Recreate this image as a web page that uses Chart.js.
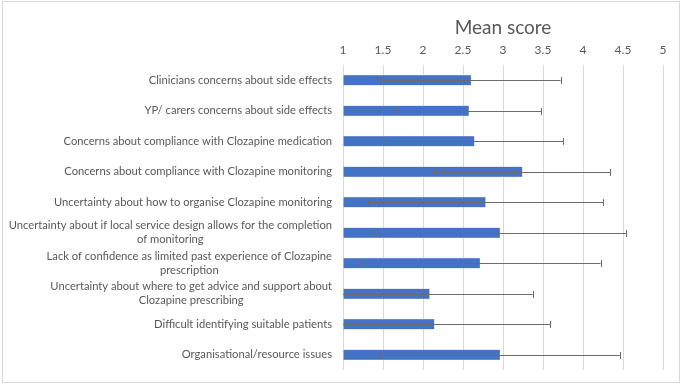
<!DOCTYPE html>
<html>
<head>
<meta charset="utf-8">
<script src="https://cdn.jsdelivr.net/npm/chart.js@4/dist/chart.umd.min.js"></script>
<style>
  html, body { margin: 0; padding: 0; background: #fff; }
  #wrap {
    position: absolute; left: 2px; top: 1px; width: 678px; height: 382px;
    border: 1px solid #d9d9d9; box-sizing: border-box;
  }
  #frame { position: absolute; left: 0; top: 0; width: 683px; height: 386px; }
</style>
</head>
<body>
<div id="wrap"></div>
<div id="frame"><canvas id="barChart" width="683" height="386"></canvas></div>
<script>
// Barriers to Clozapine prescribing - mean score with SD error bars
const categories = [
    ['Clinicians concerns about side effects'],
    ['YP/ carers concerns about side effects'],
    ['Concerns about compliance with Clozapine medication'],
    ['Concerns about compliance with Clozapine monitoring'],
    ['Uncertainty about how to organise Clozapine monitoring'],
    ['Uncertainty about if local service design allows for the completion', 'of monitoring'],
    ['Lack of confidence as limited past experience of Clozapine', 'prescription'],
    ['Uncertainty about where to get advice and support about', 'Clozapine prescribing'],
    ['Difficult identifying suitable patients'],
    ['Organisational/resource issues']
];
const meanScores = [2.60, 2.57, 2.64, 3.24, 2.78, 2.96, 2.71, 2.08, 2.14, 2.96];
const stdDevs = [1.12, 0.91, 1.11, 1.10, 1.47, 1.58, 1.51, 1.29, 1.45, 1.50];
const tickValues = [1, 1.5, 2, 2.5, 3, 3.5, 4, 4.5, 5];

const textColor = '#595959';
const gridColor = '#d9d9d9';
const labelFont = '11.2px Lato';

// error bars drawn through the chart scales
const errorBarPlugin = {
    id: 'errorBars',
    afterDatasetsDraw(chart) {
        const ctx = chart.ctx;
        const xScale = chart.scales.x;
        const yScale = chart.scales.y;
        ctx.save();
        ctx.strokeStyle = '#6b6b6b';
        ctx.lineWidth = 1;
        meanScores.forEach((m, i) => {
            const lo = m - stdDevs[i];
            const hi = m + stdDevs[i];
            const y = Math.round(yScale.getPixelForValue(i)) + 0.5;
            const x1 = xScale.getPixelForValue(Math.max(lo, xScale.min));
            const x2 = xScale.getPixelForValue(Math.min(hi, xScale.max));
            ctx.beginPath();
            ctx.moveTo(x1, y);
            ctx.lineTo(x2, y);
            if (lo >= xScale.min) {
                ctx.moveTo(Math.round(x1) + 0.5, y - 3.5);
                ctx.lineTo(Math.round(x1) + 0.5, y + 3.5);
            }
            if (hi <= xScale.max) {
                ctx.moveTo(Math.round(x2) + 0.5, y - 3.5);
                ctx.lineTo(Math.round(x2) + 0.5, y + 3.5);
            }
            ctx.stroke();
        });
        ctx.restore();
    }
};

// category labels: block right aligned, wrapped lines centred on each other
const categoryLabelPlugin = {
    id: 'categoryLabels',
    afterDraw(chart) {
        const ctx = chart.ctx;
        const yScale = chart.scales.y;
        const right = yScale.right - 11;
        const lineH = 14;
        ctx.save();
        ctx.font = labelFont;
        ctx.fillStyle = textColor;
        ctx.textAlign = 'center';
        ctx.textBaseline = 'middle';
        categories.forEach((lines, i) => {
            const w = Math.max(...lines.map(t => ctx.measureText(t).width));
            const cx = right - w / 2;
            const y0 = yScale.getPixelForValue(i) - (lines.length - 1) * lineH / 2;
            lines.forEach((t, k) => ctx.fillText(t, cx, y0 + k * lineH));
        });
        ctx.restore();
    }
};

const ctx = document.getElementById('barChart');
new Chart(ctx, {
    type: 'bar',
    data: {
        labels: categories.map(l => l.join(' ')),
        datasets: [{
            label: 'Mean score',
            data: meanScores,
            backgroundColor: '#4472c4',
            borderColor: '#8faadc',
            borderWidth: 0.5,
            barThickness: 10,
            base: 1
        }]
    },
    options: {
        indexAxis: 'y',
        responsive: false,
        animation: false,
        layout: {
            padding: { left: 8, right: 20, top: 10, bottom: 16 }
        },
        scales: {
            x: {
                position: 'top',
                min: 1,
                max: 5,
                afterBuildTicks(scale) {
                    scale.ticks = tickValues.map(v => ({ value: v }));
                },
                afterFit(scale) {
                    scale.height = 55;
                },
                ticks: {
                    color: textColor,
                    font: { family: 'Lato', size: 12 },
                    padding: 8,
                    maxRotation: 0,
                    callback: v => String(v)
                },
                grid: {
                    color: gridColor,
                    drawTicks: false
                },
                border: { display: false },
                title: {
                    display: true,
                    text: 'Mean score',
                    color: textColor,
                    font: { family: 'Lato', size: 19 },
                    padding: { top: 6, bottom: 0 }
                }
            },
            y: {
                afterFit(scale) {
                    scale.width = 335;
                },
                ticks: { display: false },
                grid: { display: false },
                border: { display: false }
            }
        },
        plugins: {
            legend: { display: false },
            tooltip: { enabled: false }
        }
    },
    plugins: [errorBarPlugin, categoryLabelPlugin]
});
</script>
</body>
</html>
